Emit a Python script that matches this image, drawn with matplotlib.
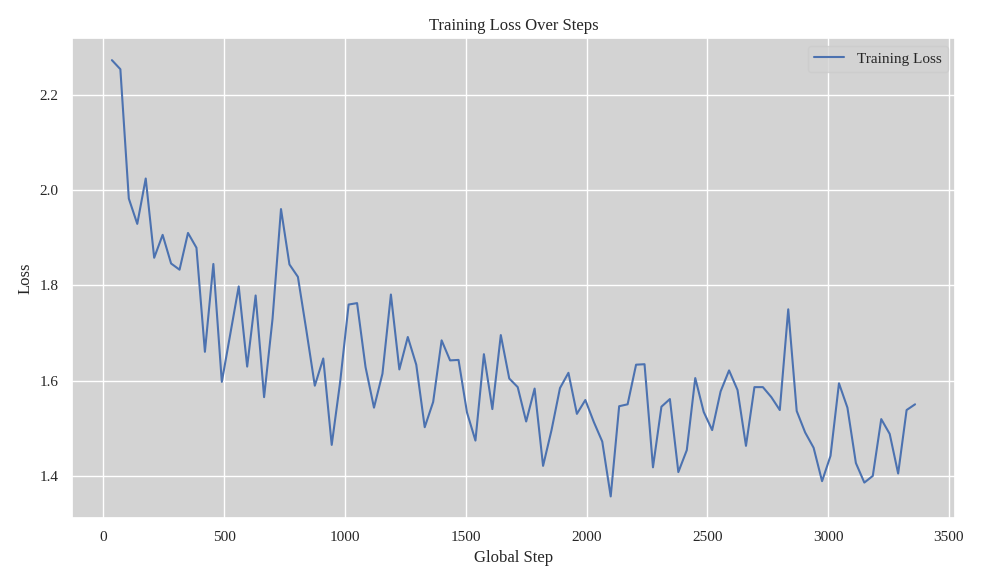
import numpy as np
import matplotlib
matplotlib.use("Agg")
import matplotlib.pyplot as plt
import seaborn as sns

# Loss values logged every 35 steps
steps = np.arange(35, 35 * 97, 35)
loss = [
    2.272, 2.253, 1.982, 1.929, 2.024, 1.858, 1.906, 1.846, 1.833, 1.910,
    1.879, 1.661, 1.845, 1.598, 1.698, 1.798, 1.630, 1.779, 1.566, 1.730,
    1.960, 1.844, 1.818, 1.706, 1.590, 1.647, 1.466, 1.598, 1.760, 1.763,
    1.629, 1.544, 1.615, 1.781, 1.624, 1.692, 1.634, 1.503, 1.556, 1.685,
    1.643, 1.644, 1.534, 1.475, 1.656, 1.541, 1.696, 1.605, 1.587, 1.515,
    1.584, 1.422, 1.497, 1.585, 1.617, 1.531, 1.560, 1.514, 1.473, 1.358,
    1.547, 1.551, 1.634, 1.635, 1.419, 1.546, 1.562, 1.409, 1.455, 1.606,
    1.535, 1.497, 1.578, 1.622, 1.581, 1.464, 1.587, 1.587, 1.566, 1.539,
    1.750, 1.537, 1.492, 1.460, 1.390, 1.443, 1.595, 1.544, 1.428, 1.387,
    1.401, 1.520, 1.489, 1.406, 1.539, 1.551,
]

sns.set_theme(style="darkgrid", rc={"axes.facecolor": "lightgray"})
plt.rcParams['font.family'] = ['Liberation Serif', 'DejaVu Serif']

fig, ax = plt.subplots(figsize=(9.83, 5.84), dpi=100)
ax.plot(steps, loss, color="#4c72b0", linewidth=1.5, label="Training Loss")
ax.set_title("Training Loss Over Steps")
ax.set_xlabel("Global Step", fontsize=12)
ax.set_ylabel("Loss", fontsize=12)
ax.set_xticks(np.arange(0, 3501, 500))
ax.set_yticks([1.4, 1.6, 1.8, 2.0, 2.2])
ax.legend(loc="upper right")
plt.tight_layout()
plt.savefig("out.png")
plt.close()
